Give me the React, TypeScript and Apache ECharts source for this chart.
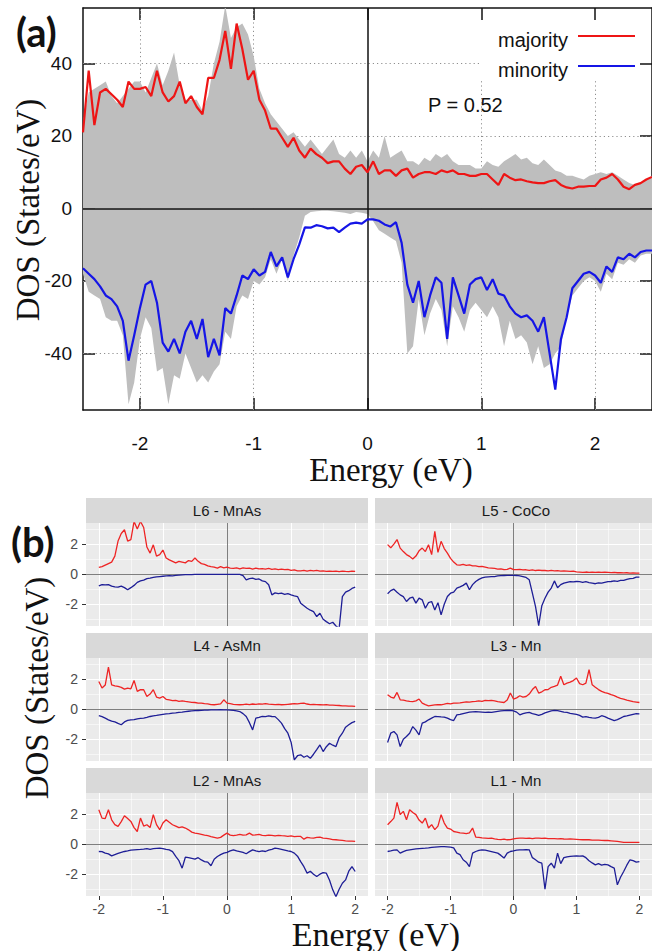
import React, { useEffect, useRef } from "react";
import * as echarts from "echarts";

// ---------------- data: panel (a) ----------------
const energyA: number[] = Array.from({ length: 101 }, (_, i) => +(-2.5 + i * 0.05).toFixed(2));

const majorityA = [
  21, 38, 23, 32, 33, 31.5, 30, 28, 35, 33,
  33, 33.5, 31, 38, 32, 29.5, 31, 35, 29, 31,
  28, 26, 36, 36, 41, 49, 38.5, 51, 44, 35.5,
  38, 30, 27, 22, 22, 19.5, 17, 19.5, 16, 14,
  16.5, 15, 14, 12.5, 13, 13, 11, 9.5, 11.5, 12,
  10, 13, 9.5, 10.5, 10.5, 9, 10.5, 11, 8.5, 9.5,
  10, 10, 9.5, 10.5, 10, 10.5, 9.5, 9.5, 9, 9,
  9.5, 9.5, 8, 6.5, 9.5, 8.5, 7.8, 8, 7.5, 7.2,
  7, 7, 7.5, 7.8, 6.5, 5.8, 5.5, 6, 6, 6.2,
  6.2, 8, 8.5, 9.5, 8, 6, 5.3, 6.5, 7, 8, 8.7,
];

const minorityA = [
  -16.5, -18, -19.5, -21.5, -24, -25, -27, -31, -42, -35,
  -27.5, -21, -20, -26, -37, -39.5, -36, -40, -34, -31,
  -36, -30.5, -41, -36, -40.5, -27.5, -29, -24, -18.5, -19.5,
  -16.8, -18.5, -17.5, -12, -16, -13.5, -19, -14, -10, -5.2,
  -5.3, -4.6, -4.9, -5.5, -5.3, -6.5, -5.3, -4.2, -3.9, -4.2,
  -3, -3, -3.4, -4.4, -5, -3.8, -9.5, -21, -26, -20,
  -30, -24, -19, -20.5, -36, -19, -24, -29, -21, -19.5,
  -19, -22.5, -19.5, -23.5, -24, -27, -29, -30, -29.5, -31,
  -34, -30, -40, -50, -36, -30, -22, -20, -18, -17.5,
  -18.5, -20.5, -16, -17.5, -13.5, -14, -12.5, -13.5, -12, -11.6, -11.6,
];

const totalUpA = [
  24, 32, 33, 34, 35, 31, 29, 31, 33, 35,
  35, 32, 36, 40, 34, 38, 43, 34, 30, 30,
  30, 27, 31, 40, 46, 56, 47, 50, 51, 48,
  42, 33, 29, 26, 24, 22, 20, 21, 19, 17,
  19, 17, 15, 17, 19, 15, 14, 16, 14, 16,
  13, 16, 14, 20, 14, 15, 16, 13, 13, 12,
  14, 13, 15, 14, 15, 13, 12, 12, 12, 11,
  11, 13, 12, 11.5, 13, 14, 15, 13.5, 14, 12.5,
  12, 13.5, 12, 10.5, 10, 9, 9, 8.5, 8, 9,
  9.5, 10, 9.5, 10, 9, 8, 7, 6.5, 7, 8, 9,
];

const totalDownA = [
  -18, -23, -24, -25, -30, -31, -31, -35, -54, -48,
  -36, -30, -33, -45, -44, -54, -46, -47, -40, -44,
  -48, -46, -48, -45, -43, -34, -36, -27, -24, -25,
  -20, -21, -19, -14, -18, -14, -20, -13, -8, -2,
  -1, -0.8, -0.6, -0.6, -0.8, -1, -1.2, -1.5, -1, -1.2,
  -1.5, -3.5, -6, -7, -8, -9, -15, -40, -38, -25,
  -35, -29, -25, -28, -38, -27, -30, -34, -28, -26,
  -28, -30, -27, -30, -38, -31, -36, -35, -37, -43,
  -38, -44, -43, -40, -38, -30, -24, -22, -20, -19,
  -20, -23, -18, -19.5, -15, -15.5, -14, -15, -13, -12.5, -12.5,
];

const ticksAX = [-2, -1, 0, 1, 2];
const ticksAY = [-40, -20, 0, 20, 40];
const legendLabels = ["majority", "minority"];
const polarizationText = "P = 0.52";

// ---------------- data: panel (b) ----------------
const energyB: number[] = Array.from({ length: 81 }, (_, i) => +(-2 + i * 0.05).toFixed(2));
const layerNames = ["L6 - MnAs", "L5 - CoCo", "L4 - AsMn", "L3 - Mn", "L2 - MnAs", "L1 - Mn"];

const l6Up = [
  0.45, 0.5, 0.6, 0.7, 0.8, 1.2, 2.2, 2.7, 2.95, 2.2,
  2.3, 3.5, 3.0, 3.5, 3.1, 1.8, 1.4, 1.95, 1.2, 1.3,
  1.6, 1.07, 0.95, 0.85, 0.75, 0.85, 0.8, 0.75, 0.9, 0.85,
  1.07, 0.85, 0.7, 0.65, 0.55, 0.5, 0.47, 0.4, 0.5, 0.42,
  0.47, 0.4, 0.38, 0.42, 0.35, 0.42, 0.38, 0.4, 0.33, 0.4,
  0.35, 0.36, 0.33, 0.38, 0.32, 0.35, 0.3, 0.33, 0.3, 0.32,
  0.25, 0.28, 0.22, 0.22, 0.25, 0.2, 0.25, 0.22, 0.25, 0.2,
  0.22, 0.18, 0.2, 0.18, 0.2, 0.17, 0.2, 0.18, 0.17, 0.2,
  0.18,
];
const l6Down = [
  -0.78, -0.7, -0.72, -0.7, -0.8, -0.85, -0.87, -0.8, -0.9, -1.04,
  -0.9, -0.75, -0.55, -0.45, -0.4, -0.3, -0.27, -0.22, -0.18, -0.16,
  -0.14, -0.12, -0.1, -0.11, -0.08, -0.06, -0.05, -0.04, -0.03, -0.03,
  -0.02, -0.02, -0.02, -0.02, -0.02, -0.02, -0.02, -0.02, -0.02, -0.02,
  -0.02, -0.02, -0.02, -0.02, -0.02, -0.1, -0.38, -0.3, -0.27, -0.35,
  -0.32, -0.45, -0.5, -0.71, -1.38, -1.25, -1.3, -1.27, -1.35, -1.3,
  -1.38, -1.45, -1.49, -1.93, -2.1, -2.27, -2.4, -2.49, -2.82, -2.6,
  -3.0, -3.16, -3.3, -3.2, -3.45, -3.6, -1.5, -1.2, -1.1, -0.95,
  -0.87,
];
const l5Up = [
  1.96, 1.75, 2.0, 2.3, 1.73, 1.5, 1.3, 1.18, 1.0, 1.2,
  1.55, 1.73, 1.5, 1.96, 1.3, 2.84, 1.45, 2.18, 1.7, 1.4,
  1.05, 0.8, 0.62, 0.6, 0.65, 0.58, 0.62, 0.55, 0.55, 0.5,
  0.52, 0.47, 0.42, 0.4, 0.38, 0.33, 0.35, 0.3, 0.32, 0.4,
  0.3, 0.3, 0.32, 0.28, 0.29, 0.25, 0.28, 0.24, 0.26, 0.24,
  0.24, 0.22, 0.25, 0.22, 0.23, 0.2, 0.22, 0.2, 0.18, 0.2,
  0.15, 0.13, 0.11, 0.14, 0.12, 0.13, 0.11, 0.13, 0.12, 0.13,
  0.12, 0.1, 0.11, 0.09, 0.1, 0.08, 0.09, 0.07, 0.08, 0.07,
  0.07,
];
const l5Down = [
  -1.31, -1.1, -1.0, -1.2, -1.38, -1.5, -1.82, -1.6, -1.53, -1.93,
  -1.6, -1.71, -2.27, -1.9, -1.82, -2.38, -1.9, -2.71, -2.0, -1.49,
  -1.27, -1.2, -0.93, -0.85, -0.75, -0.6, -1.04, -0.7, -0.49, -0.35,
  -0.25, -0.2, -0.18, -0.17, -0.16, -0.12, -0.1, -0.09, -0.08, -0.08,
  -0.08, -0.09, -0.12, -0.16, -0.22, -0.38, -1.27, -2.16, -3.42, -2.1,
  -1.6, -1.2, -0.93, -0.45, -0.9, -0.7, -0.6, -0.55, -0.5, -0.52,
  -0.49, -0.5, -0.55, -0.5, -0.56, -0.6, -0.64, -0.58, -0.6, -0.55,
  -0.5, -0.49, -0.45, -0.48, -0.42, -0.42, -0.35, -0.3, -0.28, -0.2,
  -0.2,
];
const l4Up = [
  1.84, 1.4, 1.6, 2.8, 1.62, 1.55, 1.51, 1.45, 1.33, 1.4,
  1.35, 1.91, 1.18, 1.3, 1.29, 0.84, 1.0, 1.29, 0.8, 0.73,
  0.84, 0.65, 0.62, 0.56, 0.58, 0.52, 0.55, 0.51, 0.48, 0.45,
  0.44, 0.4, 0.4, 0.36, 0.35, 0.3, 0.29, 0.32, 0.35, 0.62,
  0.4, 0.36, 0.32, 0.3, 0.29, 0.3, 0.33, 0.3, 0.34, 0.32,
  0.35, 0.33, 0.36, 0.33, 0.32, 0.3, 0.31, 0.29, 0.3, 0.32,
  0.34, 0.36, 0.35, 0.38, 0.4, 0.34, 0.3, 0.32, 0.3, 0.29,
  0.28, 0.3, 0.27, 0.27, 0.25, 0.24, 0.22, 0.22, 0.2, 0.2,
  0.18,
];
const l4Down = [
  -0.44, -0.5, -0.6, -0.71, -0.8, -0.85, -0.95, -1.04, -0.85, -0.75,
  -0.71, -0.7, -0.65, -0.62, -0.6, -0.55, -0.49, -0.45, -0.42, -0.38,
  -0.35, -0.32, -0.3, -0.27, -0.25, -0.22, -0.2, -0.16, -0.14, -0.12,
  -0.1, -0.09, -0.08, -0.07, -0.06, -0.05, -0.05, -0.05, -0.04, -0.05,
  -0.05, -0.06, -0.08, -0.12, -0.16, -0.3, -0.49, -0.9, -1.38, -0.6,
  -0.55, -0.49, -0.5, -0.45, -0.49, -0.5, -0.7, -0.93, -1.3, -1.6,
  -2.2, -3.38, -3.1, -3.04, -3.2, -3.1, -3.27, -3.0, -2.7, -2.38,
  -2.82, -2.5, -2.27, -2.4, -2.49, -1.9, -1.6, -1.2, -1.04, -0.9,
  -0.82,
];
const l3Up = [
  0.96, 0.8, 0.73, 1.11, 0.62, 0.6, 0.55, 0.51, 0.5, 0.55,
  0.67, 0.4, 0.3, 0.22, 0.25, 0.28, 0.3, 0.29, 0.33, 0.38,
  0.35, 0.4, 0.4, 0.42, 0.45, 0.48, 0.46, 0.5, 0.51, 0.55,
  0.52, 0.58, 0.56, 0.58, 0.55, 0.5, 0.47, 0.44, 0.6, 1.07,
  0.67, 0.75, 0.89, 0.8, 0.84, 1.0, 1.3, 1.51, 1.07, 1.15,
  1.29, 1.3, 1.45, 1.51, 1.6, 2.18, 1.62, 1.73, 1.8, 1.9,
  2.07, 1.7, 1.62, 1.73, 2.62, 1.62, 1.45, 1.3, 1.18, 1.1,
  1.05, 0.96, 0.9, 0.8, 0.72, 0.67, 0.6, 0.55, 0.5, 0.47,
  0.44,
];
const l3Down = [
  -2.22, -1.6, -1.49, -1.71, -2.49, -2.0, -1.82, -1.6, -1.16, -1.4,
  -1.71, -0.93, -0.85, -0.71, -0.6, -0.49, -0.5, -0.52, -0.53, -0.6,
  -0.7, -0.76, -0.38, -0.35, -0.3, -0.25, -0.2, -0.18, -0.16, -0.18,
  -0.2, -0.22, -0.2, -0.22, -0.18, -0.15, -0.12, -0.1, -0.09, -0.09,
  -0.12, -0.2, -0.38, -0.3, -0.25, -0.22, -0.3, -0.35, -0.42, -0.35,
  -0.25, -0.18, -0.12, -0.09, -0.1, -0.15, -0.2, -0.22, -0.28, -0.31,
  -0.35, -0.42, -0.53, -0.5, -0.55, -0.58, -0.6, -0.55, -0.44, -0.5,
  -0.6, -0.68, -0.76, -0.7, -0.6, -0.49, -0.45, -0.4, -0.35, -0.3,
  -0.31,
];
const l2Up = [
  2.29, 1.73, 1.7, 2.29, 1.62, 1.3, 1.18, 1.5, 1.89, 1.7,
  1.51, 1.1, 0.84, 1.73, 1.2, 1.29, 1.1, 1.96, 1.3, 0.96,
  1.4, 1.62, 1.45, 1.29, 1.2, 1.1, 1.15, 1.07, 0.95, 0.8,
  0.73, 0.7, 0.65, 0.6, 0.56, 0.5, 0.45, 0.4, 0.45, 0.6,
  0.73, 0.6, 0.56, 0.6, 0.65, 0.6, 0.62, 0.73, 0.6, 0.62,
  0.65, 0.58, 0.56, 0.6, 0.58, 0.55, 0.58, 0.56, 0.55, 0.52,
  0.55, 0.5, 0.52, 0.51, 0.33, 0.45, 0.42, 0.4, 0.45, 0.47,
  0.4, 0.38, 0.35, 0.3, 0.29, 0.27, 0.25, 0.22, 0.2, 0.2,
  0.18,
];
const l2Down = [
  -0.49, -0.5, -0.6, -0.65, -0.78, -0.7, -0.62, -0.55, -0.49, -0.45,
  -0.4, -0.38, -0.36, -0.35, -0.33, -0.3, -0.35, -0.3, -0.28, -0.27,
  -0.3, -0.35, -0.38, -0.5, -0.82, -1.1, -1.6, -0.87, -0.9, -0.95,
  -1.0, -0.9, -1.05, -1.16, -1.2, -1.44, -1.0, -0.82, -0.7, -0.6,
  -0.55, -0.45, -0.38, -0.45, -0.5, -0.55, -0.64, -0.5, -0.38, -0.45,
  -0.5, -0.45, -0.49, -0.4, -0.35, -0.27, -0.3, -0.35, -0.4, -0.45,
  -0.49, -0.6, -0.8, -1.16, -1.5, -1.93, -1.8, -2.0, -2.16, -2.0,
  -1.9, -1.93, -2.4, -3.04, -3.5, -3.0, -2.6, -2.38, -1.8, -1.49,
  -1.82,
];
const l1Up = [
  1.29, 1.5, 1.73, 2.78, 1.96, 2.18, 1.62, 2.29, 2.1, 1.96,
  1.6, 1.4, 1.73, 1.07, 1.3, 0.96, 1.2, 1.96, 1.4, 1.07,
  1.0, 0.84, 0.8, 0.75, 0.73, 0.7, 0.75, 1.07, 0.47, 0.45,
  0.42, 0.4, 0.38, 0.4, 0.35, 0.32, 0.3, 0.33, 0.29, 0.3,
  0.35, 0.38, 0.4, 0.4, 0.38, 0.4, 0.36, 0.4, 0.4, 0.38,
  0.4, 0.37, 0.36, 0.36, 0.35, 0.36, 0.34, 0.33, 0.34, 0.33,
  0.32, 0.3, 0.29, 0.3, 0.29, 0.27, 0.26, 0.27, 0.25, 0.24,
  0.24, 0.22, 0.2, 0.18, 0.15, 0.12, 0.11, 0.12, 0.11, 0.11,
  0.11,
];
const l1Down = [
  -0.49, -0.45, -0.4, -0.38, -0.6, -0.5, -0.42, -0.38, -0.35, -0.32,
  -0.3, -0.28, -0.27, -0.25, -0.22, -0.2, -0.18, -0.16, -0.17, -0.18,
  -0.2, -0.25, -0.6, -0.7, -1.04, -1.2, -1.49, -0.6, -0.49, -0.42,
  -0.38, -0.4, -0.45, -0.5, -0.55, -0.6, -0.75, -0.93, -0.6, -0.49,
  -0.45, -0.4, -0.38, -0.38, -0.36, -0.38, -0.9, -1.04, -1.2, -1.27,
  -3.0, -1.5, -1.27, -1.6, -0.6, -1.3, -0.9, -0.85, -0.82, -0.8,
  -0.78, -0.8, -0.78, -0.9, -1.1, -1.25, -1.38, -1.3, -1.4, -1.35,
  -1.38, -1.5, -1.6, -2.71, -2.2, -1.82, -1.4, -1.04, -1.1, -1.2,
  -1.16,
];
const layerUp = [l6Up, l5Up, l4Up, l3Up, l2Up, l1Up];
const layerDown = [l6Down, l5Down, l4Down, l3Down, l2Down, l1Down];

const ticksBX = [-2, -1, 0, 1, 2];
const ticksBY = [-2, 0, 2];
const gridBX = [-2, -1.5, -1, -0.5, 0, 0.5, 1, 1.5, 2];
const gridBY = [-3, -2, -1, 0, 1, 2, 3];

// ---------------- styling / layout ----------------
const SANS = '"Liberation Sans", Arial, Helvetica, sans-serif';
const SERIF = '"Liberation Serif", "Times New Roman", serif';
const RED_A = "#EE1515";
const BLUE_A = "#1515E6";
const RED_B = "#EE2424";
const BLUE_B = "#1E1E96";

const LA = { left: 83, top: 8, width: 572, height: 402, xMin: -2.5, xMax: 2.5, yMin: -55.6, yMax: 55.3 };
const LEGEND_LEFT_E = 0.99;
const LEGEND_BOTTOM_V = 35.3;
const LB = { lefts: [86, 375], tops: [523, 658, 793], width: 282, height: 103, strip: 25, xMin: -2.2, xMax: 2.2, yMin: -3.45, yMax: 3.4 };

function zip(xs: number[], ys: number[]) {
  return xs.map((x, i) => [x, ys[i]]);
}

function buildOption() {
  const grids: any[] = [
    { left: LA.left, top: LA.top, width: LA.width, height: LA.height },
  ];
  const xAxes: any[] = [
    {
      gridIndex: 0, type: "value", min: LA.xMin, max: LA.xMax, position: "bottom",
      axisLine: { show: true, onZero: false, lineStyle: { color: "#111", width: 1.5 } },
      axisTick: { show: true, inside: true, length: 12, customValues: ticksAX, lineStyle: { color: "#111", width: 1.5 } },
      axisLabel: { show: true, customValues: ticksAX, fontSize: 19, color: "#111", fontFamily: SANS, margin: 24 },
      splitLine: { show: false },
    },
    {
      gridIndex: 0, type: "value", min: LA.xMin, max: LA.xMax, position: "top",
      axisLine: { show: true, onZero: false, lineStyle: { color: "#111", width: 1.5 } },
      axisTick: { show: true, inside: true, length: 12, customValues: ticksAX, lineStyle: { color: "#111", width: 1.5 } },
      axisLabel: { show: false },
      splitLine: { show: false },
    },
  ];
  const yAxes: any[] = [
    {
      gridIndex: 0, type: "value", min: LA.yMin, max: LA.yMax, position: "left",
      axisLine: { show: true, onZero: false, lineStyle: { color: "#111", width: 1.5 } },
      axisTick: { show: true, inside: true, length: 12, customValues: ticksAY, lineStyle: { color: "#111", width: 1.5 } },
      axisLabel: { show: true, customValues: ticksAY, fontSize: 19, color: "#111", fontFamily: SANS, margin: 11 },
      splitLine: { show: false },
    },
    {
      gridIndex: 0, type: "value", min: LA.yMin, max: LA.yMax, position: "right",
      axisLine: { show: true, onZero: false, lineStyle: { color: "#111", width: 1.5 } },
      axisTick: { show: true, inside: true, length: 12, customValues: ticksAY, lineStyle: { color: "#111", width: 1.5 } },
      axisLabel: { show: false },
      splitLine: { show: false },
    },
  ];

  const dotted = { color: "#8f8f8f", width: 1, type: [1.2, 3] };
  const seg = (x1: number, y1: number, x2: number, y2: number) => [
    { coord: [x1, y1], lineStyle: dotted },
    { coord: [x2, y2] },
  ];
  const series: any[] = [
    {
      type: "line", xAxisIndex: 0, yAxisIndex: 0, data: [], z: 1, silent: true,
      markLine: {
        z: 1, silent: true, symbol: ["none", "none"], label: { show: false }, emphasis: { disabled: true },
        data: [
          seg(-2, LA.yMin, -2, LA.yMax),
          seg(-1, LA.yMin, -1, LA.yMax),
          seg(1, LA.yMin, 1, LEGEND_BOTTOM_V),
          seg(2, LA.yMin, 2, LEGEND_BOTTOM_V),
          seg(LA.xMin, 20, LA.xMax, 20),
          seg(LA.xMin, -20, LA.xMax, -20),
          seg(LA.xMin, -40, LA.xMax, -40),
          seg(LA.xMin, 40, LEGEND_LEFT_E, 40),
        ],
      },
    },
    {
      type: "line", xAxisIndex: 0, yAxisIndex: 0, data: zip(energyA, totalUpA), z: 2,
      symbol: "none", silent: true, lineStyle: { width: 0 }, areaStyle: { color: "#BEBEBE", opacity: 1 },
    },
    {
      type: "line", xAxisIndex: 0, yAxisIndex: 0, data: zip(energyA, totalDownA), z: 2,
      symbol: "none", silent: true, lineStyle: { width: 0 }, areaStyle: { color: "#BEBEBE", opacity: 1 },
    },
    {
      type: "line", xAxisIndex: 0, yAxisIndex: 0, data: [], z: 3, silent: true,
      markLine: {
        z: 3, silent: true, symbol: ["none", "none"], label: { show: false }, emphasis: { disabled: true },
        lineStyle: { color: "#111", width: 1.5, type: "solid" },
        data: [{ yAxis: 0 }, { xAxis: 0 }],
      },
    },
    {
      name: legendLabels[0], type: "line", xAxisIndex: 0, yAxisIndex: 0, data: zip(energyA, majorityA), z: 4,
      symbol: "none", lineStyle: { color: RED_A, width: 2.2 },
    },
    {
      name: legendLabels[1], type: "line", xAxisIndex: 0, yAxisIndex: 0, data: zip(energyA, minorityA), z: 4,
      symbol: "none", lineStyle: { color: BLUE_A, width: 2.2 },
    },
  ];

  const graphics: any[] = [];

  layerNames.forEach((name, i) => {
    const col = i % 2;
    const row = Math.floor(i / 2);
    const left = LB.lefts[col];
    const top = LB.tops[row];
    const gi = i + 1;
    const ai = i + 2;
    const isBottom = row === 2;
    const isLeft = col === 0;
    grids.push({ left, top, width: LB.width, height: LB.height, show: true, backgroundColor: "#EBEBEB", borderWidth: 0 });
    xAxes.push({
      gridIndex: gi, type: "value", min: LB.xMin, max: LB.xMax, position: "bottom",
      axisLine: { show: false, onZero: false },
      axisTick: { show: isBottom, length: 4, customValues: ticksBX, lineStyle: { color: "#333", width: 1 } },
      axisLabel: { show: isBottom, customValues: ticksBX, fontSize: 14, color: "#4D4D4D", fontFamily: SANS, margin: 6 },
      splitLine: { show: false },
    });
    yAxes.push({
      gridIndex: gi, type: "value", min: LB.yMin, max: LB.yMax, position: "left",
      axisLine: { show: false, onZero: false },
      axisTick: { show: isLeft, length: 4, customValues: ticksBY, lineStyle: { color: "#333", width: 1 } },
      axisLabel: { show: isLeft, customValues: ticksBY, fontSize: 14, color: "#4D4D4D", fontFamily: SANS, margin: 8 },
      splitLine: { show: false },
    });
    const gridLines: any[] = [];
    gridBX.forEach((v) => {
      gridLines.push({ xAxis: v, lineStyle: { color: "#FFFFFF", width: Number.isInteger(v) ? 1.1 : 0.55, type: "solid" } });
    });
    gridBY.forEach((v) => {
      gridLines.push({ yAxis: v, lineStyle: { color: "#FFFFFF", width: v % 2 === 0 ? 1.1 : 0.55, type: "solid" } });
    });
    series.push({
      type: "line", xAxisIndex: ai, yAxisIndex: ai, data: [], z: 1, silent: true,
      markLine: { z: 1, silent: true, symbol: ["none", "none"], label: { show: false }, emphasis: { disabled: true }, data: gridLines },
    });
    series.push({
      type: "line", xAxisIndex: ai, yAxisIndex: ai, data: [], z: 2, silent: true,
      markLine: {
        z: 2, silent: true, symbol: ["none", "none"], label: { show: false }, emphasis: { disabled: true },
        lineStyle: { color: "#7F7F7F", width: 1, type: "solid" },
        data: [{ yAxis: 0 }, { xAxis: 0 }],
      },
    });
    series.push({
      type: "line", xAxisIndex: ai, yAxisIndex: ai, data: zip(energyB, layerUp[i]), z: 3,
      symbol: "none", lineStyle: { color: RED_B, width: 1.3 },
    });
    series.push({
      type: "line", xAxisIndex: ai, yAxisIndex: ai, data: zip(energyB, layerDown[i]), z: 3,
      symbol: "none", lineStyle: { color: BLUE_B, width: 1.3 },
    });
    graphics.push({
      type: "rect", shape: { x: left, y: top - LB.strip, width: LB.width, height: LB.strip },
      style: { fill: "#D9D9D9" }, silent: true,
    });
    graphics.push({
      type: "text", x: left + LB.width / 2, y: top - LB.strip / 2, silent: true,
      style: { text: name, fontSize: 15, fontFamily: SANS, fill: "#1A1A1A", align: "center", verticalAlign: "middle", textAlign: "center", textVerticalAlign: "middle" },
    });
  });

  const txt = (text: string, x: number, y: number, size: number, family: string, extra: any = {}, align = "left") => {
    const { styleExtra, ...rest } = extra;
    return {
      type: "text", x, y, silent: true, ...rest,
      style: { text, fontSize: size, fontFamily: family, fill: "#111", align, verticalAlign: "middle", textAlign: align, textVerticalAlign: "middle", ...(styleExtra || {}) },
    };
  };

  graphics.push(txt("(a)", 16, 32, 40, "Lato, " + SANS, { styleExtra: { fontWeight: "bold" } }));
  graphics.push(txt("(b)", 11, 542, 40, "Lato, " + SANS, { styleExtra: { fontWeight: "bold" } }));
  graphics.push(txt(legendLabels[0], 568, 40, 20, SANS, {}, "right"));
  graphics.push(txt(legendLabels[1], 568, 70, 20, SANS, {}, "right"));
  graphics.push({ type: "line", silent: true, shape: { x1: 578, y1: 36, x2: 635, y2: 36 }, style: { stroke: RED_A, lineWidth: 2.2 } });
  graphics.push({ type: "line", silent: true, shape: { x1: 578, y1: 66, x2: 635, y2: 66 }, style: { stroke: BLUE_A, lineWidth: 2.2 } });
  graphics.push(txt(polarizationText, 428, 105, 20, SANS));
  graphics.push(txt("Energy (eV)", 391, 470, 33, SERIF, {}, "center"));
  graphics.push(txt("Energy (eV)", 376, 934, 34, SERIF, {}, "center"));
  graphics.push(txt("DOS (States/eV)", 28, 210, 33, SERIF, { rotation: Math.PI / 2 }, "center"));
  graphics.push(txt("DOS (States/eV)", 37, 688, 33, SERIF, { rotation: Math.PI / 2 }, "center"));

  return {
    animation: false,
    backgroundColor: "#FFFFFF",
    grid: grids,
    xAxis: xAxes,
    yAxis: yAxes,
    series,
    graphic: { elements: graphics },
  };
}

export default function App() {
  const ref = useRef<HTMLDivElement | null>(null);
  useEffect(() => {
    if (!ref.current) return;
    const chart = echarts.init(ref.current, null, { renderer: "svg" });
    chart.setOption(buildOption() as any);
    return () => chart.dispose();
  }, []);
  return (
    <div
      ref={ref}
      style={{ position: "absolute", left: 0, top: 0, width: 652, height: 951, background: "#fff" }}
    />
  );
}
